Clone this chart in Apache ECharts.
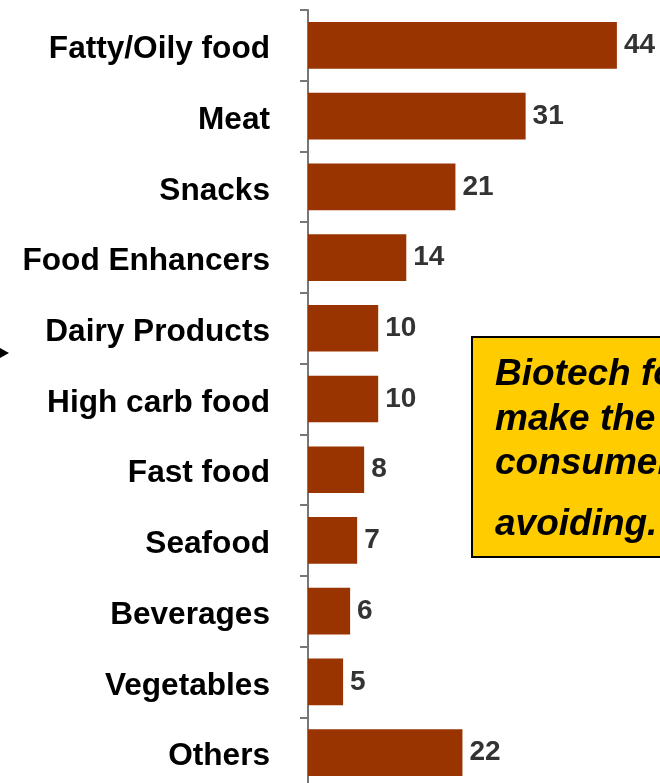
<!DOCTYPE html>
<html>
<head>
<meta charset="utf-8">
<script src="https://cdn.jsdelivr.net/npm/echarts@6/dist/echarts.min.js"></script>
<style>
  html, body { margin: 0; padding: 0; background: #fff; }
  #chart { width: 660px; height: 783px; }
</style>
</head>
<body>
<div id="chart"></div>
<script>
// Foods consumers say they are avoiding (%)
const categories = [
  'Fatty/Oily food', 'Meat', 'Snacks', 'Food Enhancers', 'Dairy Products',
  'High carb food', 'Fast food', 'Seafood', 'Beverages', 'Vegetables', 'Others'
];
const values = [44, 31, 21, 14, 10, 10, 8, 7, 6, 5, 22];

// Callout text lines and their baselines
const calloutLines = ['Biotech foods can', 'make the foods', 'consumers are', 'avoiding.'];
const calloutBaselines = [383, 428, 472, 533];

const FONT = '"Liberation Sans", Arial, Helvetica, sans-serif';
const CALLOUT_SIZE = 37;
const chart = echarts.init(document.getElementById('chart'));

chart.setOption({
  animation: false,
  grid: {
    left: 308, top: 10, width: 351, height: 778,
    containLabel: false,
    outerBoundsMode: 'none'
  },
  xAxis: {
    type: 'value',
    min: 0,
    max: 50,
    show: false
  },
  yAxis: {
    type: 'category',
    data: categories,
    inverse: true,
    axisLine: { show: true, lineStyle: { color: '#777777', width: 2 } },
    axisTick: { show: true, length: 8, lineStyle: { color: '#777777', width: 2 } },
    axisLabel: {
      margin: 38,
      formatter: (v) => '{c|' + v + '}',
      rich: {
        c: {
          padding: [8, 0, 0, 0],
          color: '#000000',
          fontFamily: FONT,
          fontWeight: 'bold',
          fontSize: 31.6
        }
      }
    },
    splitLine: { show: false }
  },
  series: [{
    type: 'bar',
    data: values,
    barCategoryGap: '34%',
    itemStyle: { color: '#993300' },
    label: {
      show: true,
      position: 'right',
      distance: 7,
      color: '#333333',
      fontFamily: FONT,
      fontWeight: 'bold',
      fontSize: 28
    }
  }],
  graphic: [
    {
      type: 'polygon',
      shape: { points: [[0, 348], [9, 353], [0, 358]] },
      style: { fill: '#000000' }
    },
    {
      type: 'rect',
      shape: { x: 472, y: 337, width: 300, height: 220 },
      style: { fill: '#FFCC00', stroke: '#000000', lineWidth: 2 }
    },
    ...calloutLines.map((t, i) => ({
      type: 'text',
      style: {
        x: 495,
        y: calloutBaselines[i] - Math.round(CALLOUT_SIZE * 0.22),
        text: t,
        fill: '#000000',
        font: 'italic bold ' + CALLOUT_SIZE + 'px ' + FONT,
        verticalAlign: 'middle'
      }
    }))
  ]
});
</script>
</body>
</html>
